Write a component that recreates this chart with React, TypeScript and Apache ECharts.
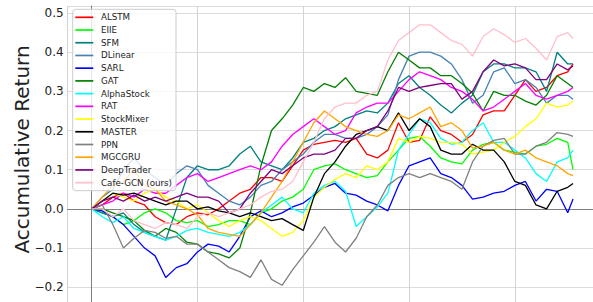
import React, { useEffect, useRef } from 'react';
import * as echarts from 'echarts';

// trading-day index of each sample
const days = [0, 10, 20, 30, 40, 50, 60, 70, 80, 90, 100, 110, 120, 130, 140, 150, 160, 170, 180, 190, 200, 210, 220, 230, 240, 250, 260, 270, 280, 290, 300, 310, 320, 330, 340, 350, 360, 370, 380, 390, 400, 410, 420, 430, 440, 450, 455];

const ALSTM = [0, 0.01, 0.03, 0.04, 0.02, 0.01, -0.02, -0.035, -0.04, -0.02, -0.01, -0.015, 0.0, 0.02, 0.04, 0.05, 0.08, 0.08, 0.07, 0.11, 0.15, 0.165, 0.17, 0.175, 0.17, 0.18, 0.14, 0.13, 0.15, 0.22, 0.17, 0.175, 0.235, 0.20, 0.19, 0.17, 0.19, 0.24, 0.25, 0.25, 0.29, 0.33, 0.30, 0.31, 0.34, 0.35, 0.37];
const EIIE = [0, -0.01, -0.02, -0.04, -0.03, -0.01, 0.0, -0.01, -0.03, -0.035, -0.03, -0.045, -0.04, -0.03, -0.03, -0.04, -0.01, 0.0, 0.02, 0.03, 0.05, 0.10, 0.11, 0.115, 0.10, 0.09, 0.08, 0.085, 0.12, 0.15, 0.18, 0.185, 0.16, 0.13, 0.12, 0.115, 0.15, 0.165, 0.17, 0.15, 0.145, 0.14, 0.16, 0.165, 0.18, 0.17, 0.10];
const SFM = [0, -0.01, -0.02, -0.01, -0.04, -0.06, -0.07, -0.08, 0.0, 0.08, 0.11, 0.10, 0.10, 0.11, 0.14, 0.16, 0.12, 0.11, 0.10, 0.13, 0.17, 0.18, 0.20, 0.21, 0.23, 0.24, 0.25, 0.245, 0.27, 0.32, 0.34, 0.31, 0.29, 0.265, 0.245, 0.27, 0.29, 0.35, 0.37, 0.37, 0.36, 0.36, 0.35, 0.30, 0.40, 0.37, 0.37];
const DLinear = [0, 0.03, 0.05, 0.10, 0.13, 0.10, 0.08, 0.06, 0.09, 0.11, 0.10, 0.06, 0.04, 0.02, 0.01, 0.03, 0.06, 0.07, 0.10, 0.12, 0.14, 0.17, 0.19, 0.19, 0.18, 0.18, 0.19, 0.21, 0.24, 0.33, 0.39, 0.40, 0.40, 0.39, 0.37, 0.33, 0.27, 0.29, 0.35, 0.36, 0.32, 0.33, 0.31, 0.27, 0.29, 0.29, 0.28];
const SARL = [0, -0.005, -0.02, -0.04, -0.07, -0.10, -0.12, -0.175, -0.15, -0.14, -0.11, -0.09, -0.095, -0.11, -0.07, -0.02, -0.005, -0.02, -0.01, 0.005, 0.015, 0.035, 0.055, 0.065, 0.04, 0.035, 0.02, 0.01, -0.005, 0.06, 0.11, 0.12, 0.13, 0.09, 0.08, 0.06, 0.025, 0.03, 0.04, 0.045, 0.06, 0.07, 0.02, 0.05, 0.045, -0.01, 0.025];
const GAT = [0, 0.0, -0.01, -0.02, -0.03, -0.055, -0.07, -0.05, -0.06, -0.085, -0.09, -0.11, -0.115, -0.125, -0.10, -0.01, 0.11, 0.20, 0.23, 0.265, 0.31, 0.30, 0.32, 0.31, 0.335, 0.30, 0.295, 0.29, 0.35, 0.40, 0.38, 0.36, 0.36, 0.34, 0.34, 0.32, 0.295, 0.25, 0.30, 0.29, 0.29, 0.275, 0.265, 0.29, 0.34, 0.32, 0.31];
const AlphaStock = [0, -0.02, -0.035, -0.02, -0.05, -0.06, -0.07, -0.08, -0.07, -0.055, -0.05, -0.06, -0.065, -0.07, -0.06, -0.04, -0.01, 0.01, 0.03, 0.0, -0.01, 0.04, 0.06, 0.07, 0.045, -0.045, -0.02, 0.005, 0.04, 0.15, 0.19, 0.23, 0.22, 0.18, 0.165, 0.17, 0.20, 0.22, 0.17, 0.17, 0.15, 0.13, 0.09, 0.07, 0.12, 0.13, 0.15];
const RAT = [0, 0.01, 0.02, 0.04, 0.03, 0.05, 0.04, 0.04, 0.06, 0.08, 0.09, 0.07, 0.08, 0.09, 0.10, 0.11, 0.10, 0.12, 0.16, 0.19, 0.21, 0.23, 0.21, 0.19, 0.20, 0.245, 0.26, 0.27, 0.27, 0.30, 0.33, 0.35, 0.34, 0.33, 0.31, 0.30, 0.28, 0.25, 0.26, 0.28, 0.30, 0.32, 0.29, 0.28, 0.29, 0.30, 0.31];
const StockMixer = [0, 0.02, 0.04, 0.03, 0.02, 0.04, 0.05, 0.03, 0.02, 0.0, 0.01, -0.01, -0.03, -0.045, -0.03, -0.02, -0.03, -0.05, -0.07, -0.06, -0.03, 0.03, 0.055, 0.075, 0.09, 0.08, 0.11, 0.10, 0.12, 0.18, 0.17, 0.185, 0.18, 0.17, 0.17, 0.165, 0.14, 0.145, 0.15, 0.17, 0.185, 0.21, 0.23, 0.27, 0.26, 0.265, 0.275];
const MASTER = [0, 0.02, 0.04, 0.035, 0.04, 0.03, 0.02, 0.01, 0.02, 0.02, 0.0, 0.005, -0.005, -0.01, -0.02, -0.01, -0.02, -0.03, -0.025, -0.04, -0.055, 0.03, 0.09, 0.12, 0.16, 0.19, 0.20, 0.21, 0.20, 0.245, 0.20, 0.23, 0.21, 0.15, 0.14, 0.14, 0.165, 0.15, 0.15, 0.12, 0.07, 0.06, 0.01, 0.0, 0.045, 0.055, 0.065];
const PPN = [0, 0.01, -0.04, -0.10, -0.075, -0.055, -0.06, -0.075, -0.07, -0.09, -0.09, -0.11, -0.13, -0.15, -0.16, -0.175, -0.13, -0.18, -0.195, -0.155, -0.12, -0.085, -0.045, -0.085, -0.11, -0.075, -0.02, 0.01, 0.06, 0.08, 0.09, 0.08, 0.09, 0.08, 0.07, 0.05, 0.12, 0.16, 0.175, 0.18, 0.14, 0.14, 0.16, 0.17, 0.195, 0.19, 0.185];
const MGCGRU = [0, 0.03, 0.06, 0.07, 0.10, 0.06, 0.05, 0.02, 0.01, 0.0, -0.015, -0.05, -0.06, -0.065, -0.07, -0.04, -0.01, 0.03, 0.07, 0.12, 0.17, 0.22, 0.25, 0.23, 0.21, 0.20, 0.19, 0.185, 0.20, 0.24, 0.23, 0.245, 0.26, 0.21, 0.22, 0.20, 0.155, 0.16, 0.17, 0.15, 0.14, 0.15, 0.13, 0.12, 0.11, 0.09, 0.085];
const DeepTrader = [0, 0.02, 0.03, 0.02, 0.035, 0.02, 0.03, 0.02, 0.03, 0.04, 0.03, 0.03, 0.02, -0.01, 0.0, 0.04, 0.07, 0.10, 0.09, 0.11, 0.13, 0.14, 0.14, 0.15, 0.18, 0.18, 0.20, 0.21, 0.25, 0.31, 0.30, 0.31, 0.315, 0.32, 0.32, 0.28, 0.30, 0.35, 0.38, 0.365, 0.37, 0.36, 0.33, 0.33, 0.37, 0.355, 0.365];
const CafeGCN = [0, 0.0, -0.02, 0.0, -0.03, -0.04, -0.05, -0.035, -0.04, -0.05, -0.02, -0.01, -0.02, -0.01, 0.0, 0.01, 0.03, 0.045, 0.05, 0.07, 0.12, 0.17, 0.23, 0.26, 0.27, 0.27, 0.29, 0.30, 0.38, 0.43, 0.45, 0.47, 0.47, 0.45, 0.43, 0.42, 0.39, 0.44, 0.46, 0.445, 0.425, 0.435, 0.41, 0.38, 0.44, 0.45, 0.435];

const seriesNames = ['ALSTM', 'EIIE', 'SFM', 'DLinear', 'SARL', 'GAT', 'AlphaStock', 'RAT', 'StockMixer', 'MASTER', 'PPN', 'MGCGRU', 'DeepTrader', 'Cafe-GCN (ours)'];
const seriesValues = [ALSTM, EIIE, SFM, DLinear, SARL, GAT, AlphaStock, RAT, StockMixer, MASTER, PPN, MGCGRU, DeepTrader, CafeGCN];
const seriesColors = ['#ff0000', '#00ff00', '#008080', '#4682b4', '#0000ff', '#008000', '#00ffff', '#ff00ff', '#ffff00', '#000000', '#808080', '#ffa500', '#800080', '#ffc0cb'];

const yAxisTitle = 'Accumulative Return';
const FONT = 'DejaVu Sans';

export default function App() {
  const ref = useRef<HTMLDivElement>(null);

  useEffect(() => {
    document.body.style.margin = '0';
    const chart = echarts.init(ref.current as HTMLDivElement, null, { renderer: 'svg' });
    chart.setOption({
      animation: false,
      textStyle: { fontFamily: FONT },
      grid: {
        left: 67.6,
        top: 6,
        width: 529.5,
        height: 320.4,
        containLabel: false,
        outerBoundsMode: 'none',
      },
      xAxis: {
        type: 'value',
        position: 'top',
        min: -22.75,
        max: 477.75,
        splitNumber: 5,
        minInterval: 100,
        maxInterval: 100,
        axisLine: { show: true, lineStyle: { color: '#808080', width: 1 } },
        axisTick: { show: false },
        axisLabel: { show: false },
        splitLine: { show: true, lineStyle: { color: '#d3d3d3', width: 1 } },
      },
      yAxis: {
        type: 'value',
        min: -0.3,
        max: 0.518,
        splitNumber: 8,
        minInterval: 0.1,
        maxInterval: 0.1,
        axisLine: { show: true, lineStyle: { color: '#808080', width: 1 } },
        axisTick: { show: false },
        axisLabel: {
          show: true,
          margin: 4,
          fontSize: 12,
          color: '#222',
          fontFamily: FONT,
          showMaxLabel: false,
          showMinLabel: false,
          formatter: (v: number) =>
            v > -0.25 && Math.abs(v * 10 - Math.round(v * 10)) < 1e-6
              ? (Math.round(v * 10) / 10).toFixed(1).replace('-', '\u2212')
              : '',
        },
        splitLine: { show: true, lineStyle: { color: '#dcdcdc', width: 1 } },
      },
      legend: {
        data: seriesNames,
        orient: 'vertical',
        left: 72.7,
        top: 9.3,
        icon: 'path://M0,0L18,0L18,1.7L0,1.7Z',
        itemWidth: 18,
        itemHeight: 10,
        itemGap: 2.72,
        padding: [3, 4, 3, 2.6],
        backgroundColor: 'rgba(255,255,255,0.8)',
        borderColor: '#cccccc',
        borderWidth: 1,
        borderRadius: 3,
        selectedMode: false,
        textStyle: {
          fontSize: 8.7,
          color: '#222',
          fontFamily: FONT,
          lineHeight: 10,
          padding: [0, 0, 0, 2.7],
        },
      },
      graphic: [
        {
          type: 'text',
          x: 22,
          y: 149.5,
          rotation: Math.PI / 2,
          style: {
            text: yAxisTitle,
            fontSize: 20,
            fontFamily: FONT,
            fill: '#222',
            align: 'center',
            verticalAlign: 'middle',
          },
        },
      ],
      series: seriesNames.map((name, k) => ({
        name,
        type: 'line',
        symbol: 'none',
        showSymbol: false,
        silent: true,
        clip: true,
        color: seriesColors[k],
        lineStyle: { width: 1.3, color: seriesColors[k] },
        itemStyle: { color: seriesColors[k] },
        emphasis: { disabled: true },
        data: days.map((d, i) => [d, seriesValues[k][i]]),
      })),
    });
    return () => chart.dispose();
  }, []);

  return <div ref={ref} style={{ width: 593, height: 302 }} />;
}
